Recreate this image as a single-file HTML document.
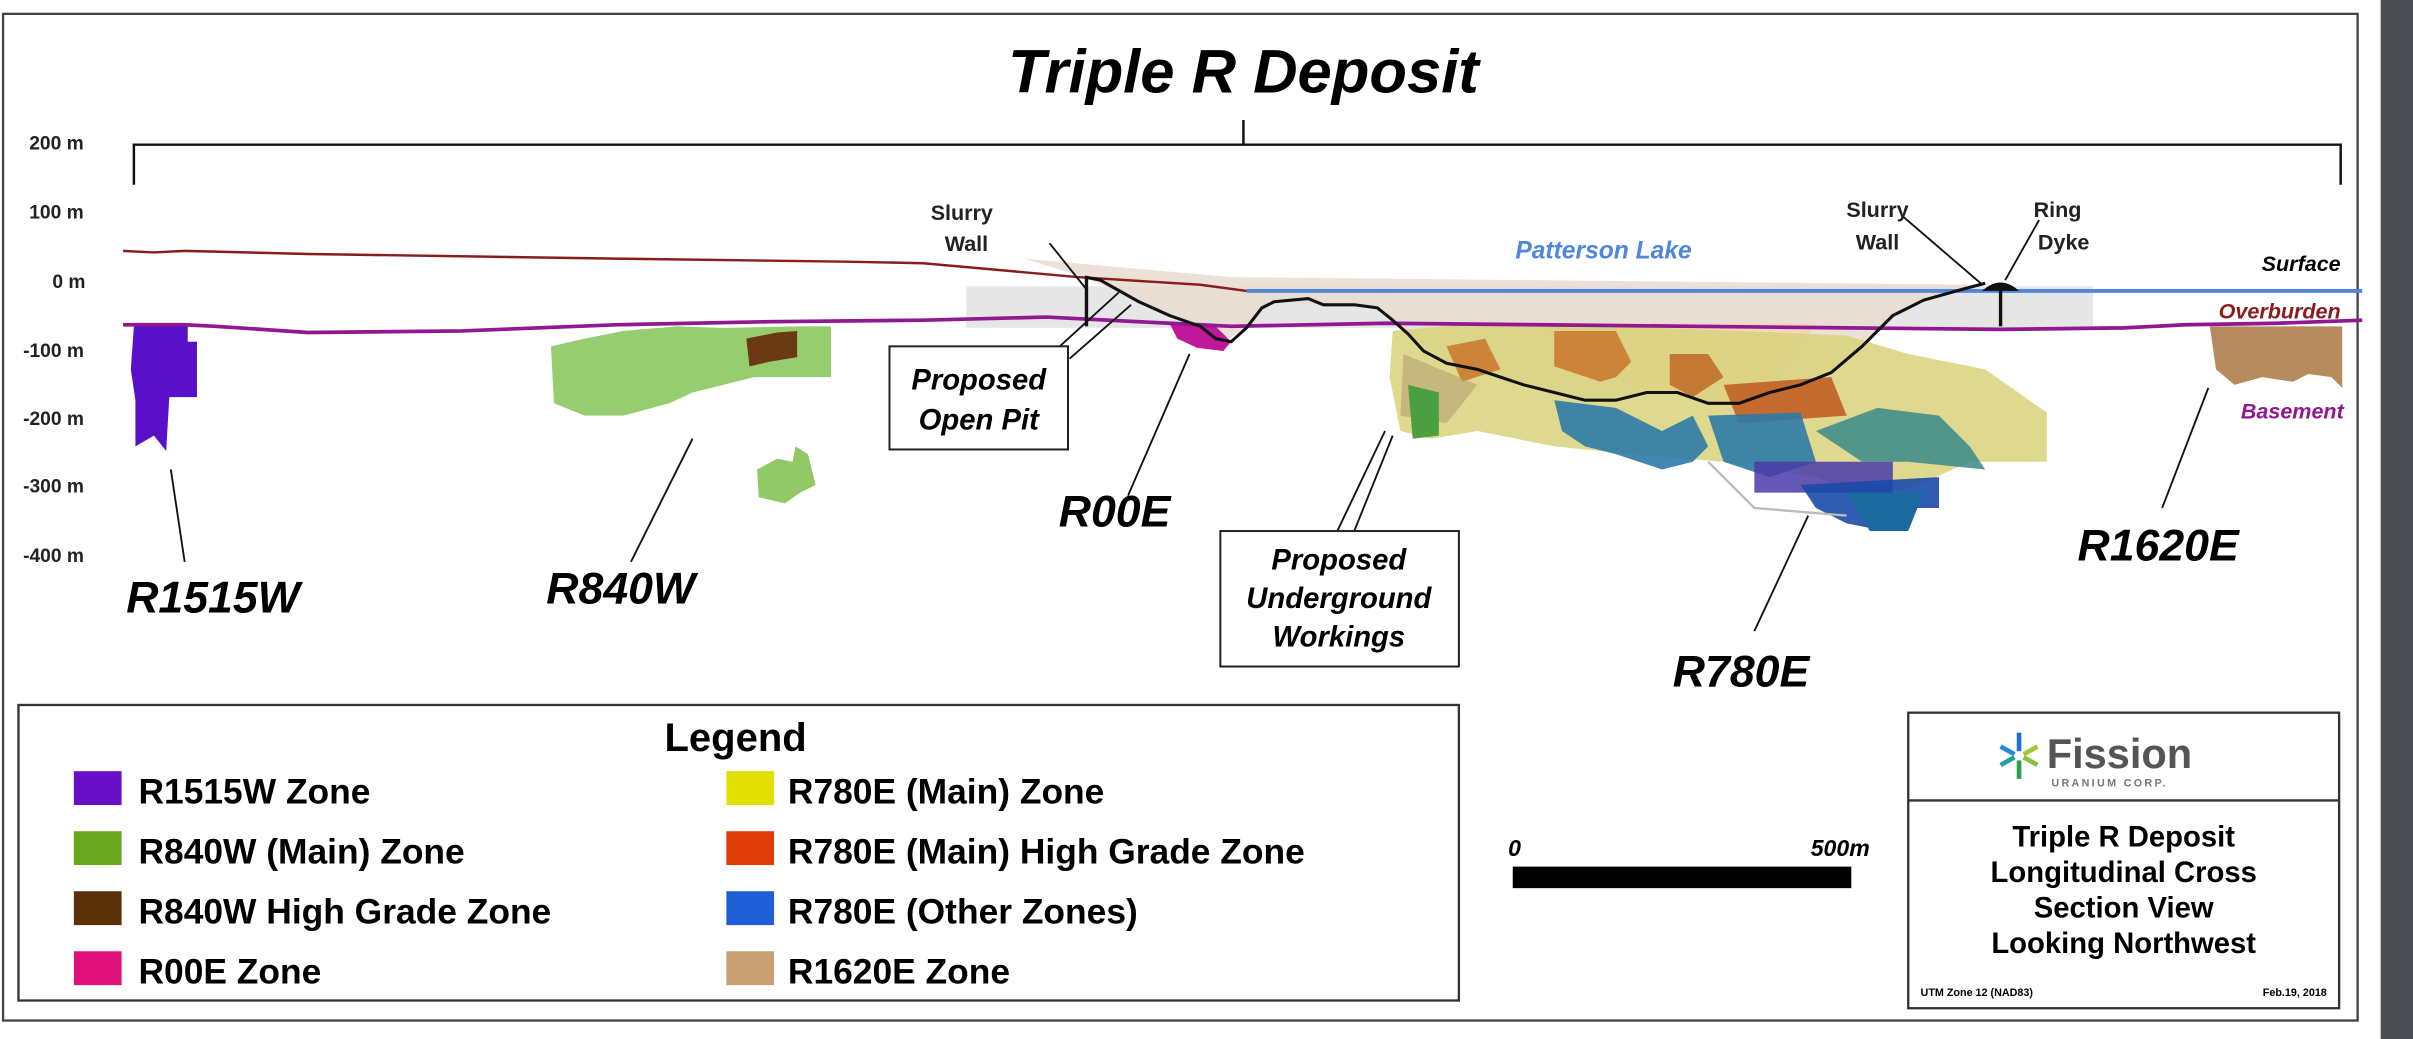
<!DOCTYPE html>
<html><head><meta charset="utf-8"><style>
html,body{margin:0;padding:0;background:#fff;width:2413px;height:1039px;overflow:hidden}
svg{display:block}
text{font-family:"Liberation Sans",Arial,sans-serif;font-weight:bold}
.it{font-style:italic}
</style></head><body>
<svg width="2413" height="1039" viewBox="0 0 1568 675" preserveAspectRatio="none" xmlns="http://www.w3.org/2000/svg">
<rect x="0" y="0" width="1568" height="675" fill="#fff"/>
<rect x="1547" y="0" width="21" height="675" fill="#4b4e53"/>
<rect x="2" y="9" width="1530" height="654" fill="none" stroke="#444" stroke-width="1.5"/>

<text x="808" y="60" font-size="40" text-anchor="middle" class="it">Triple R Deposit</text>
<path d="M87,120 V94 H1521 V120 M808,94 V78" fill="none" stroke="#111" stroke-width="1.6"/>

<g font-size="12.5" fill="#222">
<text x="19" y="97">200 m</text><text x="19" y="142">100 m</text><text x="34" y="187">0 m</text>
<text x="15" y="232">-100 m</text><text x="15" y="276">-200 m</text><text x="15" y="320">-300 m</text><text x="15" y="365">-400 m</text>
</g>

<!-- pit fill -->
<polygon points="628,186 1360,186 1360,213 628,213" fill="#e2e2e2" opacity="0.85"/>
<polygon points="665,168 800,180 1290,185 1250,195 1230,205 1190,242 1150,255 1130,262 1110,262 1090,255 1070,255 1050,260 1030,260 1010,255 960,240 940,236 915,217 895,200 860,198 828,196 810,213 795,222 780,212 740,196 705,180" fill="#e8dcd0" opacity="0.85"/>
<polygon points="1000,210 1180,210 1150,255 1130,262 1110,262 1090,255 1070,255 1040,240" fill="#f3d6bd"/>

<!-- R780E ore -->
<polygon points="905,215 960,210 1050,212 1130,215 1200,218 1240,230 1290,240 1330,268 1330,300 1280,300 1240,318 1200,318 1180,310 1120,300 1060,295 1010,290 960,280 930,285 910,280 903,245" fill="#d8d27a" opacity="0.85"/>
<polygon points="1010,215 1050,215 1060,235 1050,245 1040,248 1010,238" fill="#c8762a" opacity="0.85"/>
<polygon points="940,225 965,220 975,240 950,248" fill="#c8762a" opacity="0.85"/>
<polygon points="1085,230 1110,230 1120,245 1100,258 1085,250" fill="#c06a24" opacity="0.85"/>
<polygon points="1120,250 1190,245 1200,270 1130,275" fill="#c0581e" opacity="0.85"/>
<polygon points="912,230 960,250 940,275 910,270" fill="#b5a070" opacity="0.6"/>
<polygon points="915,250 935,255 935,283 918,285" fill="#4aa040"/>
<polygon points="1010,260 1050,265 1080,280 1100,270 1110,290 1100,300 1080,305 1050,295 1030,290 1015,280" fill="#2c7aa6" opacity="0.9"/>
<polygon points="1110,270 1170,268 1180,300 1150,310 1120,300" fill="#2c7aa6" opacity="0.9"/>
<polygon points="1180,280 1220,265 1260,270 1280,290 1290,305 1240,300 1210,300" fill="#3a8a8a" opacity="0.85"/>
<polygon points="1140,300 1230,300 1230,320 1140,320" fill="#4a3aa8" opacity="0.85"/>
<polygon points="1170,315 1260,310 1260,330 1240,330 1225,345 1200,340 1180,330" fill="#1a4aa8" opacity="0.9"/>
<polygon points="1200,320 1250,320 1240,345 1215,345" fill="#1a6aa0"/>
<path d="M1110,300 L1140,330 L1200,335" fill="none" stroke="#bbb" stroke-width="1.5"/>

<!-- R00E -->
<polygon points="760,210 790,212 800,222 795,228 778,226 765,220" fill="#c0189a"/>
<!-- R1515W -->
<polygon points="87,212 122,212 122,222 128,222 128,258 110,258 108,293 100,283 88,290 88,260 85,240" fill="#5a10c8"/>
<!-- R840W -->
<polygon points="358,225 380,220 405,215 440,212 470,213 520,212 540,212 540,245 490,245 470,250 450,255 435,262 405,270 380,270 360,262" fill="#7cc04a" opacity="0.8"/>
<polygon points="485,220 505,216 518,215 518,232 500,235 487,238" fill="#6a3a12"/>
<polygon points="492,305 505,298 515,300 517,290 525,295 530,315 520,320 510,327 493,323" fill="#7cc04a" opacity="0.85"/>
<!-- R1620E -->
<polygon points="1436,212 1522,212 1522,252 1515,245 1500,243 1490,248 1470,245 1452,250 1440,240" fill="#b58a5c"/>

<!-- lines -->
<path d="M80,163 L100,164 L120,163 L200,165 L400,168 L550,170 L600,171 L700,180 L780,185 L810,189" fill="none" stroke="#8b1c1c" stroke-width="1.6"/>
<line x1="810" y1="189" x2="1535" y2="189" stroke="#4f86e0" stroke-width="2.5"/>
<path d="M80,211 L120,211 L140,212 L200,216 L300,215 L400,211 L500,209 L600,208 L680,206 L720,208 L760,210 L800,212 L900,210 L1000,211 L1100,212 L1200,213 L1300,214 L1380,213 L1420,211 L1480,210 L1535,208" fill="none" stroke="#901890" stroke-width="2.4"/>
<path d="M705,180 L715,182 L740,196 L760,205 L780,212 L790,220 L800,222 L810,213 L820,200 L828,196 L850,194 L860,198 L880,198 L895,200 L905,208 L915,217 L925,228 L940,236 L960,240 L975,245 L990,250 L1010,255 L1030,260 L1050,260 L1070,255 L1090,255 L1110,262 L1130,262 L1150,255 L1170,250 L1190,242 L1210,225 L1230,205 L1250,195 L1275,188 L1290,184" fill="none" stroke="#111" stroke-width="2"/>
<line x1="706" y1="180" x2="706" y2="212" stroke="#111" stroke-width="2.2"/>
<line x1="1300" y1="186" x2="1300" y2="212" stroke="#111" stroke-width="2.2"/>
<path d="M1288,189 Q1300,178 1312,189 Z" fill="#111"/>

<!-- leader lines -->
<g stroke="#111" stroke-width="1.2" fill="none">
<path d="M682,158 L706,188"/>
<path d="M681,232 L727,190 M695,233 L735,198"/>
<path d="M1237,141 L1287,184 M1325,143 L1303,182"/>
<path d="M111,305 L120,365"/>
<path d="M450,285 L410,365"/>
<path d="M773,230 L733,322"/>
<path d="M900,280 L869,345 M905,283 L880,345"/>
<path d="M1175,335 L1140,410"/>
<path d="M1435,252 L1405,330"/>
</g>

<!-- callout boxes -->
<rect x="578" y="225" width="116" height="67" fill="#fff" stroke="#222" stroke-width="1.3"/>
<text x="636" y="253" font-size="19" text-anchor="middle" class="it">Proposed</text>
<text x="636" y="279" font-size="19" text-anchor="middle" class="it">Open Pit</text>
<rect x="793" y="345" width="155" height="88" fill="#fff" stroke="#222" stroke-width="1.3"/>
<text x="870" y="370" font-size="19" text-anchor="middle" class="it">Proposed</text>
<text x="870" y="395" font-size="19" text-anchor="middle" class="it">Underground</text>
<text x="870" y="420" font-size="19" text-anchor="middle" class="it">Workings</text>

<g font-size="14" text-anchor="middle" fill="#222">
<text x="625" y="143">Slurry</text><text x="628" y="163">Wall</text>
<text x="1220" y="141">Slurry</text><text x="1220" y="162">Wall</text>
<text x="1337" y="141">Ring</text><text x="1341" y="162">Dyke</text>
</g>
<text x="1042" y="168" font-size="16" fill="#4f86e0" text-anchor="middle" class="it">Patterson Lake</text>
<text x="1521" y="176" font-size="14" text-anchor="end" class="it">Surface</text>
<text x="1521" y="207" font-size="14" text-anchor="end" fill="#8b1c1c" class="it">Overburden</text>
<text x="1523" y="272" font-size="14" text-anchor="end" fill="#901890" class="it">Basement</text>

<g font-size="29" class="it">
<text x="82" y="398">R1515W</text>
<text x="355" y="392">R840W</text>
<text x="688" y="342">R00E</text>
<text x="1087" y="446">R780E</text>
<text x="1350" y="364">R1620E</text>
</g>

<!-- legend -->
<rect x="12" y="458" width="936" height="192" fill="#fff" stroke="#333" stroke-width="1.5"/>
<text x="478" y="488" font-size="26" text-anchor="middle">Legend</text>
<g font-size="23">
<rect x="48" y="501" width="31" height="22" fill="#6a0fc8"/><text x="90" y="522">R1515W Zone</text>
<rect x="48" y="540" width="31" height="22" fill="#6aa820"/><text x="90" y="561">R840W (Main) Zone</text>
<rect x="48" y="579" width="31" height="22" fill="#5a3008"/><text x="90" y="600">R840W High Grade Zone</text>
<rect x="48" y="618" width="31" height="22" fill="#e0107a"/><text x="90" y="639">R00E Zone</text>
<rect x="472" y="501" width="31" height="22" fill="#e2e000"/><text x="512" y="522">R780E (Main) Zone</text>
<rect x="472" y="540" width="31" height="22" fill="#e03c0a"/><text x="512" y="561">R780E (Main) High Grade Zone</text>
<rect x="472" y="579" width="31" height="22" fill="#1e5fd8"/><text x="512" y="600">R780E (Other Zones)</text>
<rect x="472" y="618" width="31" height="22" fill="#c8a074"/><text x="512" y="639">R1620E Zone</text>
</g>

<!-- scale -->
<text x="980" y="556" font-size="15" class="it">0</text>
<text x="1215" y="556" font-size="15" text-anchor="end" class="it">500m</text>
<rect x="983" y="563" width="220" height="14" fill="#000"/>

<!-- title block -->
<rect x="1240" y="463" width="280" height="192" fill="#fff" stroke="#333" stroke-width="1.5"/>
<line x1="1240" y1="520" x2="1520" y2="520" stroke="#333" stroke-width="1.5"/>
<g transform="translate(1312,491)">
<path d="M0,-15 V-3" stroke="#1e6fd8" stroke-width="3"/>
<path d="M0,3 V15" stroke="#2aa050" stroke-width="3"/>
<path d="M-12,-6 L-3,-1" stroke="#1e8ad8" stroke-width="3"/>
<path d="M3,1 L12,6" stroke="#8cc040" stroke-width="3"/>
<path d="M-12,6 L-3,1" stroke="#20a0a0" stroke-width="3"/>
<path d="M3,-1 L12,-6" stroke="#a0c830" stroke-width="3"/>
</g>
<text x="1330" y="499" font-size="27" fill="#555">Fission</text>
<text x="1333" y="511" font-size="7" fill="#777" font-weight="normal" letter-spacing="1.5">URANIUM CORP.</text>
<g font-size="19" text-anchor="middle">
<text x="1380" y="550">Triple R Deposit</text>
<text x="1380" y="573">Longitudinal Cross</text>
<text x="1380" y="596">Section View</text>
<text x="1380" y="619">Looking Northwest</text>
</g>
<text x="1248" y="647" font-size="7" font-weight="normal">UTM Zone 12 (NAD83)</text>
<text x="1512" y="647" font-size="7" font-weight="normal" text-anchor="end">Feb.19, 2018</text>
</svg>
</body></html>
